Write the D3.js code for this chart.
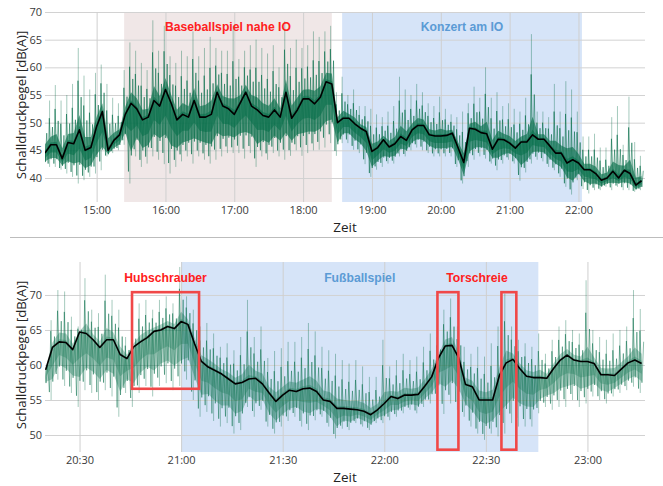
<!DOCTYPE html>
<html><head><meta charset="utf-8">
<script src="https://cdn.jsdelivr.net/npm/d3@7"></script>
<style>body{margin:0;background:#fff}svg{display:block}</style>
</head><body>
<svg id="c" width="663" height="486"></svg>
<script>
// ---------- DATA ----------
// Top panel: 5-minute bins starting 14:15
const topStart = "14:15";
const topStepMin = 5;
const topMean = [44.5,46,46,43.5,46.4,46.2,48.7,45,45.5,49.3,
52,45,46.8,47.8,51.5,53.5,52.5,50.5,51,54,
53,56,53.5,50.5,51.5,51,54,51,51,51.5,
55.5,53,52.5,51.5,53.5,55.5,53,52.3,51.3,51,
52.3,51,55.5,50.8,52.3,54.3,54.3,53.4,54.6,57.4,
57,50,50.8,50.8,49.8,49,48.4,44.8,45.5,46.9,
45.6,46.2,47.5,46.8,48.7,49.5,49.5,47.8,47.6,47.6,
47.7,48.1,45.5,42.8,49,48.8,48.2,48,45.2,47,
46.9,46.3,45.4,46.5,46.5,47.8,47,47,45.8,44.5,
44.5,42.7,43.3,42.7,41.5,41.5,40.8,39.6,40,41.2,
40,41.4,40.8,38.7,39.5];
const topHi = [53.5,54,56.8,54,55,57,63.5,58.5,56,59,
60.5,57,54.5,53.5,59.5,64.5,63,60.8,59.5,68.5,
63,67.5,62,60.8,63,62,66.5,62,63.5,65.5,
63.5,63,63,67.5,61.5,63,64,65,63.5,62.5,
64,60,68.3,63.5,65,63.5,64,66.5,65.5,66.5,
67.5,55.5,58.3,55,56,53,53,52.5,51.5,51,
52,53,58.3,56,55,57,55.5,53.5,53,54.7,
52.5,51.5,51,52,53.5,56.5,54.5,60,54.5,55.5,
53,53.5,52.5,52,54.5,66,52,52,51,57,
52,57.5,56,52,47.5,47.5,48,45.5,45.5,51,
53,46,54.7,46.5,44];
const topLo = [42,42,42,41.5,40.8,40.2,39,39.6,40.2,40.8,
41.4,43.9,44.5,45,46,39,43.9,42,42.6,43.9,
43.3,42.5,40.8,42,43,43.9,42.6,43.9,43.3,42.6,
43.3,43.9,44.5,44.5,44.5,43.5,44.5,42,43.9,43.3,
44.5,43.9,43.3,44,45,44,44.5,45,45.1,45.5,
46.3,44,46.3,46.3,45.1,44.5,42.5,40.2,41.5,42,
42.6,42.6,43.9,43.9,45,45.5,45,44.5,43.9,43.9,
43.9,43.9,42,39,42,43.3,43.9,43.5,42.6,41.4,
42.6,43.3,42.6,39.5,41,42.6,43.3,43,42,41.4,
40.2,38.4,37,39.6,38,37.2,37.8,37.8,38.4,37.8,
38.4,37.8,37.8,37.5,37.8];
const topYTicks = [40,45,50,55,60,65,70];
const topXTicks = ["15:00","16:00","17:00","18:00","19:00","20:00","21:00","22:00"];
const topBands = [
  {name:"Baseballspiel nahe IO", from:"15:24", to:"18:25", kind:"red"},
  {name:"Konzert am IO", from:"18:34", to:"22:03", kind:"blue"}
];

// Bottom panel: 2-minute bins starting 20:20
const botStart = "20:20";
const botStepMin = 2;
const botMean = [59.3,62.5,63.3,63.2,62.2,64.7,64.5,63.6,62.5,63.6,
63.6,61.5,60.9,62.6,63.3,63.9,64.8,65,65.5,65.2,
66.2,65.8,63,60.5,59.7,59.2,58.7,58,57.3,57.5,
58,58.1,57.3,56,54.8,55.7,56.4,56.2,56.6,56.7,
56.2,55,54.8,53.8,53.8,53.7,53.6,53.4,52.9,53.6,
54.5,55.5,55.2,55.7,55.7,55.8,57,58.3,61,62.7,
62.8,61,57.2,56.9,55,55,55,58.5,60.3,60.8,
59.5,58.4,58.2,58.2,58.1,59.5,60.7,61.4,60.7,60.5,
60.5,60.2,58.6,58.6,58.5,59.4,60.3,60.7,60.2];
const botHi = [61.2,66.4,70.7,70.5,66.9,65.5,72.4,67.9,67.4,72.9,
69.3,67.9,64,65.5,68.8,69.3,67.9,69.3,69.8,68.8,
74,69.8,67.9,65.5,66,64.5,62.6,63.1,62.1,64,
69.3,64,65.5,61,62,62.4,63.3,63.3,64,66,
64.8,62.6,62.1,61.6,60.7,60.2,60.7,59.8,58.3,58.3,
63.6,59.8,60.7,61.6,60.7,61.2,62.6,64.5,64,67.9,
69.5,65.5,62.6,61.6,62.6,61.2,63.1,65.5,70.2,65.5,
63.6,63.1,62.6,64.5,61.6,63.6,65.5,66.4,65,64.5,
72.1,65,64,63.6,64.5,65,65.5,70.7,68];
const botLo = [56.4,55,57.9,57,56,54,56.4,56,55,56.4,
55.5,52.6,56,54,56,57,55.5,57,57.4,56.4,
57,57.9,55,52.6,53.3,52,51.2,51.7,50.2,50.7,
54,52.6,53.6,51.2,50.2,51.2,52,52.6,51.2,50.7,
52.1,52.6,51.2,49.5,50.9,50.7,51.7,51.2,50.7,51.7,
51.7,52.1,52.6,53.1,53.6,53.1,54,54.5,55,53,
54.5,53.6,52.6,51.2,50.2,49.3,50.2,49.8,50.2,51.7,
51.2,51.2,51.2,53.1,54,53.6,54,54,55,54,
54.5,55.5,55,54.5,55.5,56,56.4,56.9,56];
const botYTicks = [50,55,60,65,70];
const botXTicks = ["20:30","21:00","21:30","22:00","22:30","23:00"];
const botBands = [{name:"Fußballspiel", from:"21:00", to:"22:45.5", kind:"blue"}];
const botBoxes = [
  {from:"20:45.5", to:"21:05.3", lo:56.6, hi:70.4},
  {from:"22:15.7", to:"22:21.9", lo:47.9, hi:70.4},
  {from:"22:34.6", to:"22:39", lo:47.9, hi:70.4}
];
const botNotes = [
  {text:"Hubschrauber", at:"20:55.4", kind:"red"},
  {text:"Torschreie", at:"22:27.4", kind:"red"}
];

// ---------- HELPERS ----------
const T = s => { const [h,m] = s.split(":"); const mm = +m; return new Date(2024,0,1,+h,Math.floor(mm),Math.round((mm-Math.floor(mm))*60)); };
const addMin = (d,m) => new Date(d.getTime()+m*60000);
const GREEN = "#006b45";
const RED = "#ff2020";
const BLUE = "#5b9bd5";
const FONT = "'Open Sans', 'Noto Sans', sans-serif";
const LFONT = "'Liberation Sans', Arial, sans-serif";
const svg = d3.select("#c");

function panel(cfg){
  const {left,right,top,bottom} = cfg;
  const x = d3.scaleTime().domain(cfg.xDomain).range([left,right]);
  const y = d3.scaleLinear().domain(cfg.yDomain).range([bottom,top]);
  const g = svg.append("g");
  const clipId = "clip"+cfg.id;
  svg.append("clipPath").attr("id",clipId).append("rect")
    .attr("x",left).attr("y",top).attr("width",right-left).attr("height",bottom-top);

  cfg.bands.forEach(b=>{
    g.append("rect").attr("x",x(T(b.from))).attr("y",top)
      .attr("width",x(T(b.to))-x(T(b.from))).attr("height",bottom-top)
      .attr("fill", b.kind==="red" ? "#f0e7e7" : "#d6e4f8");
  });
  const gy = d3.axisLeft(y).tickValues(cfg.yTicks).tickSize(-(right-left)).tickPadding(3);
  const ya = g.append("g").attr("transform",`translate(${left},0)`).call(gy);
  ya.select(".domain").remove();
  ya.selectAll("line").attr("stroke","#d2d2d2").attr("stroke-width",1);
  ya.selectAll("text").attr("font-family",FONT).attr("font-size",11).attr("fill","#3a3a3a");
  const gx = d3.axisBottom(x).tickValues(cfg.xTicks.map(T)).tickFormat(d3.timeFormat("%H:%M"))
    .tickSize(-(bottom-top)).tickPadding(4);
  const xa = g.append("g").attr("transform",`translate(0,${bottom})`).call(gx);
  xa.select(".domain").remove();
  xa.selectAll("line").attr("stroke","#cfcfcf").attr("stroke-width",1);
  xa.selectAll("text").attr("font-family",FONT).attr("font-size",11).attr("fill","#3a3a3a");

  const s = cfg.step;
  const t0 = T(cfg.start);
  const tx = i => x(addMin(t0, i*s));
  const dg = g.append("g").attr("clip-path",`url(#${clipId})`);

  dg.selectAll("line.sp").data(cfg.mean).join("line").attr("class","sp")
    .attr("x1",(d,i)=>tx(i-0.2)).attr("x2",(d,i)=>tx(i-0.2))
    .attr("y1",(d,i)=>y(cfg.lo[i])).attr("y2",(d,i)=>y(cfg.hi[i]))
    .attr("stroke",GREEN).attr("stroke-width",0.9).attr("stroke-opacity",0.4);

  const pts = [];
  cfg.mean.forEach((m,i)=>{
    const lo = cfg.lo[i], hi = cfg.hi[i];
    pts.push([i-0.45, m-0.85*(m-lo)]);
    pts.push([i-0.25, m+0.6*(hi-m)]);
    pts.push([i+0.05, m-0.65*(m-lo)]);
    pts.push([i+0.3, m+0.4*(hi-m)]);
  });
  dg.append("path").datum(pts)
    .attr("d", d3.line().x(d=>tx(d[0])).y(d=>y(d[1])))
    .attr("fill","none").attr("stroke",GREEN).attr("stroke-width",0.9).attr("stroke-opacity",cfg.zigOp);

  const core = d3.area()
    .x((d,i)=>tx(i))
    .y0((d,i)=>y(d-0.6*(d-cfg.lo[i])))
    .y1((d,i)=>y(d+0.18*(cfg.hi[i]-d)));
  dg.append("path").datum(cfg.mean).attr("d",core).attr("fill",GREEN).attr("fill-opacity",cfg.coreOp);
  const core2 = d3.area()
    .x((d,i)=>tx(i))
    .y0((d,i)=>y(d-0.35*(d-cfg.lo[i])))
    .y1((d,i)=>y(d+0.05*(cfg.hi[i]-d)));
  dg.append("path").datum(cfg.mean).attr("d",core2).attr("fill",GREEN).attr("fill-opacity",cfg.coreOp2);

  dg.append("path").datum(cfg.mean)
    .attr("d", d3.line().x((d,i)=>tx(i)).y(d=>y(d)))
    .attr("fill","none").attr("stroke","#000").attr("stroke-width",1.6).attr("stroke-linejoin","round");

  (cfg.boxes||[]).forEach(b=>{
    g.append("rect").attr("x",x(T(b.from))).attr("y",y(b.hi))
      .attr("width",x(T(b.to))-x(T(b.from))).attr("height",y(b.lo)-y(b.hi))
      .attr("fill","none").attr("stroke","#f04848").attr("stroke-width",2.6);
  });
  cfg.bands.forEach(b=>{
    const cx = (x(T(b.from))+x(T(b.to)))/2;
    g.append("text").attr("x",cx).attr("y",top+cfg.labelDy).attr("text-anchor","middle")
      .attr("font-family",LFONT).attr("font-weight","bold")
      .attr("font-size",12.2).attr("fill", b.kind==="red"?RED:BLUE).text(b.name);
  });
  (cfg.notes||[]).forEach(n=>{
    g.append("text").attr("x",x(T(n.at))).attr("y",top+cfg.labelDy).attr("text-anchor","middle")
      .attr("font-family",LFONT).attr("font-weight","bold")
      .attr("font-size",12.2).attr("fill",RED).text(n.text);
  });
  g.append("text").attr("x",(left+right)/2).attr("y",bottom+cfg.zeitDy).attr("text-anchor","middle")
    .attr("font-family",FONT).attr("font-size",13.5).attr("fill","#222").text("Zeit");
  g.append("text").attr("transform",`translate(${cfg.ylabX},${(top+bottom)/2 - 2}) rotate(-90)`)
    .attr("text-anchor","middle").attr("font-family",FONT).attr("font-size",13.2).attr("fill","#222")
    .text("Schalldruckpegel [dB(A)]");
}

panel({id:1,left:45,right:645,top:12,bottom:202,
  xDomain:[T("14:15"),T("22:58")], yDomain:[35.66,70],
  yTicks:topYTicks, xTicks:topXTicks, bands:topBands,
  start:topStart, step:topStepMin, mean:topMean, hi:topHi, lo:topLo,
  labelDy:18.5, ylabX:26, zigOp:0.6, coreOp:0.6, coreOp2:0.5, zeitDy:30});

svg.append("line").attr("x1",10).attr("x2",663).attr("y1",237.5).attr("y2",237.5)
  .attr("stroke","#bdbdbd").attr("stroke-width",1);

panel({id:2,left:45,right:645,top:262,bottom:452,
  xDomain:[T("20:19.8"),T("23:17")], yDomain:[47.57,74.71],
  yTicks:botYTicks, xTicks:botXTicks, bands:botBands, boxes:botBoxes, notes:botNotes,
  start:botStart, step:botStepMin, mean:botMean, hi:botHi, lo:botLo,
  labelDy:19.5, ylabX:26, zigOp:0.5, coreOp:0.3, coreOp2:0.25, zeitDy:30});
</script>
</body></html>
